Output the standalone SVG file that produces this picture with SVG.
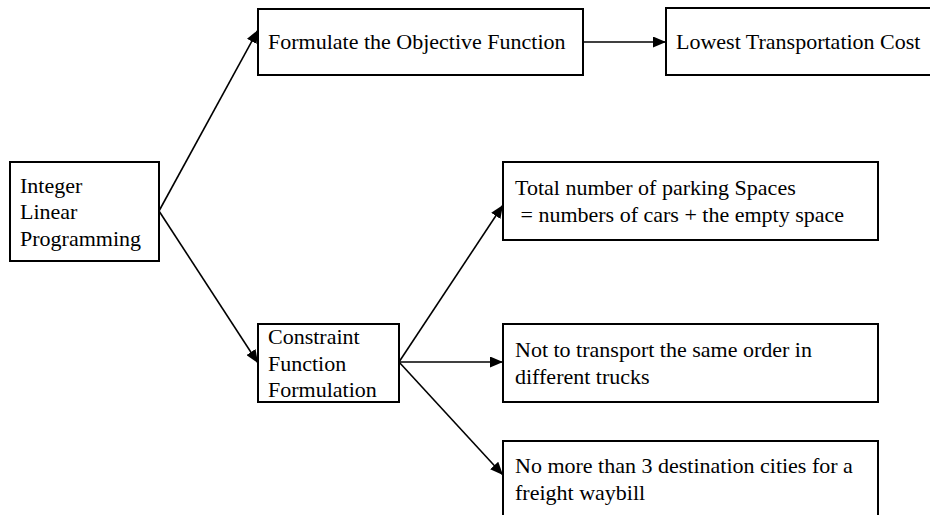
<svg xmlns="http://www.w3.org/2000/svg" width="930" height="515" viewBox="0 0 930 515">
<defs>
<style>
.box{fill:#fff;stroke:#000;stroke-width:2}
.c{stroke:#000;stroke-width:1.6;fill:none;marker-end:url(#ah)}
</style>
<marker id="ah" viewBox="0 0 10 10" refX="10" refY="5" markerWidth="13" markerHeight="11" markerUnits="userSpaceOnUse" orient="auto" preserveAspectRatio="none">
<path d="M0,0 L10,5 L0,10 Z" fill="#000"/>
</marker>
</defs>
<rect width="930" height="515" fill="#fff"/>
<g id="connectors">
<line class="c" x1="159" y1="211" x2="258" y2="30"/>
<line class="c" x1="159" y1="211" x2="258" y2="363"/>
<line class="c" x1="583" y1="42" x2="666" y2="42"/>
<line class="c" x1="399" y1="362" x2="503" y2="205"/>
<line class="c" x1="399" y1="362" x2="503" y2="362"/>
<line class="c" x1="399" y1="362" x2="503" y2="475"/>
</g>
<g font-family="Liberation Serif, Times New Roman, DejaVu Serif, serif" font-size="22" fill="#000">
<g id="ilp">
<rect class="box" x="10" y="162" width="149" height="99"/>
<text x="20" y="193">Integer</text>
<text x="20" y="219">Linear</text>
<text x="20" y="246">Programming</text>
</g>
<g id="objective">
<rect class="box" x="258" y="9" width="325" height="66"/>
<text x="268" y="49">Formulate the Objective Function</text>
</g>
<g id="lowest">
<rect class="box" x="666" y="8" width="270" height="67"/>
<text x="676" y="49">Lowest Transportation Cost</text>
</g>
<g id="constraint">
<rect class="box" x="258" y="324" width="141" height="78"/>
<text x="268" y="344">Constraint</text>
<text x="268" y="371">Function</text>
<text x="268" y="397">Formulation</text>
</g>
<g id="parking">
<rect class="box" x="503" y="162" width="375" height="78"/>
<text x="515" y="195">Total number of parking Spaces</text>
<text x="515" y="222" xml:space="preserve"> = numbers of cars + the empty space</text>
</g>
<g id="order">
<rect class="box" x="503" y="324" width="375" height="78"/>
<text x="515" y="357">Not to transport the same order in</text>
<text x="515" y="384">different trucks</text>
</g>
<g id="cities">
<rect class="box" x="503" y="441" width="375" height="90"/>
<text x="515" y="473">No more than 3 destination cities for a</text>
<text x="515" y="500">freight waybill</text>
</g>
</g>
</svg>
